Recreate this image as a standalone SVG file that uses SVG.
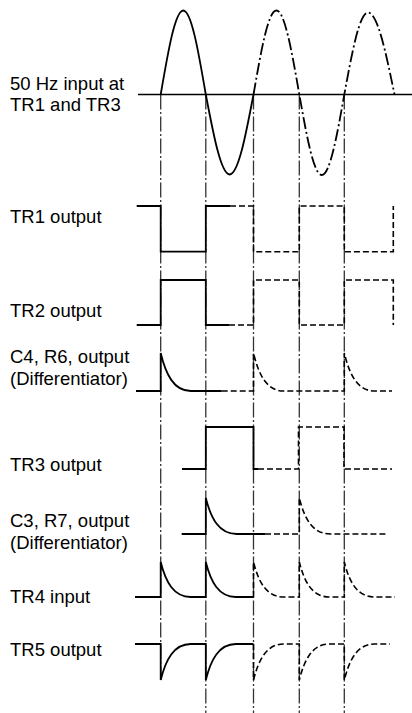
<svg xmlns="http://www.w3.org/2000/svg" width="412" height="713" viewBox="0 0 412 713">
<style>
  text { font-family: "Liberation Sans", Arial, Helvetica, sans-serif; font-size: 18.5px; fill: #000; }
  .s { fill: none; stroke: #000; stroke-width: 1.8; stroke-linejoin: miter; }
  .d { fill: none; stroke: #000; stroke-width: 1.6; stroke-dasharray: 6 3; }
  .sd { fill: none; stroke: #000; stroke-width: 1.8; stroke-dasharray: 12 3 2 3; }
  .ref { fill: none; stroke: #333; stroke-width: 1.3; stroke-dasharray: 15 2.5 2 2.5; }
  .axis { fill: none; stroke: #000; stroke-width: 1.5; }
</style>
<rect width="412" height="713" fill="#fff"/>
<g id="connectors">
  <line class="ref" x1="160.7" y1="94.5" x2="160.7" y2="680"/>
  <line class="ref" x1="205.8" y1="94.5" x2="205.8" y2="713"/>
  <line class="ref" x1="253.5" y1="94.5" x2="253.5" y2="713"/>
  <line class="ref" x1="299.3" y1="94.5" x2="299.3" y2="713"/>
  <line class="ref" x1="344.3" y1="94.5" x2="344.3" y2="713"/>
</g>
<g id="input">
  <text x="10" y="89.5">50 Hz input at</text>
  <text x="10" y="110.5">TR1 and TR3</text>
  <line class="axis" x1="138" y1="94.5" x2="412" y2="94.5"/>
  <path class="s" d="M160.7,94.5 C168.05,51.51 175.11,10.5 183.25,10.5 C191.39,10.5 198.45,51.51 205.8,94.5 C213.57,135.44 221.04,174.5 229.65,174.5 C238.26,174.5 245.73,135.44 253.5,94.5"/>
  <path class="sd" d="M253.5,94.5 C260.96,51.51 268.14,10.5 276.4,10.5 C284.66,10.5 291.84,51.51 299.3,94.5 C306.63,135.7 313.68,175 321.8,175 C329.92,175 336.97,135.7 344.3,94.5 C352.02,52.53 359.45,12.5 368,12.5 C377.56,12.5 385.87,52.53 394.5,94.5"/>
</g>
<g id="tr1-output">
  <text x="10" y="222.5">TR1 output</text>
  <path class="s" d="M136.7,206 H160.7 V251.7 H205.8 V206 H230"/>
  <path class="d" d="M230,206 H253.5 V251.7 H299.3 V206 H344.3 V251.7 H393.3 V206"/>
</g>
<g id="tr2-output">
  <text x="10" y="316.5">TR2 output</text>
  <path class="s" d="M136.7,325 H160.7 V280 H205.8 V325 H229"/>
  <path class="d" d="M229,325 H253.5 V280 H299.3 V325 H344.3 V280 H393.3 V325"/>
</g>
<g id="c4-r6-output">
  <text x="10" y="362.5">C4, R6, output</text>
  <text x="10" y="385">(Differentiator)</text>
  <path class="s" d="M136,391 H160.7 V353 c5,21 13,38 30,38 H221.7"/>
  <path class="d" d="M221.7,391 H253.5 V353 c5,21 13,38 30,38 H344.3 V353 c5,21 13,38 30,38 H392"/>
</g>
<g id="tr3-output">
  <text x="10" y="470.5">TR3 output</text>
  <path class="s" d="M182,469 H205.8 V427 H253.5 V469 H258"/>
  <path class="d" d="M258,469 H298.5 V427 H344 V469 H392"/>
</g>
<g id="c3-r7-output">
  <text x="10" y="526.5">C3, R7, output</text>
  <text x="10" y="549">(Differentiator)</text>
  <path class="s" d="M181.7,534 H205.8 V498 c5,20 13,36 31,36 H265"/>
  <path class="d" d="M265,534 H299.3 V498 c5,20 13,36 31,36 H387"/>
</g>
<g id="tr4-input">
  <text x="10" y="602.5">TR4 input</text>
  <path class="s" d="M135,597 H160.7 V562 c5,20 13,35 30,35 H205.8 V562 c5,20 13,35 30,35 H253.5"/>
  <path class="d" d="M253.5,597 V562 c5,20 13,35 30,35 H299.3 V562 c5,20 13,35 30,35 H344.3 V562 c5,20 13,35 30,35 H395"/>
</g>
<g id="tr5-output">
  <text x="10" y="656">TR5 output</text>
  <path class="s" d="M135,644 H160.7 V680 c5,-20 13,-36 30,-36 H205.8 V680 c5,-20 13,-36 30,-36 H253.5"/>
  <path class="d" d="M253.5,644 V680 c5,-20 13,-36 30,-36 H299.3 V680 c5,-20 13,-36 30,-36 H344.3 V680 c5,-20 13,-36 30,-36 H390"/>
</g>
</svg>
